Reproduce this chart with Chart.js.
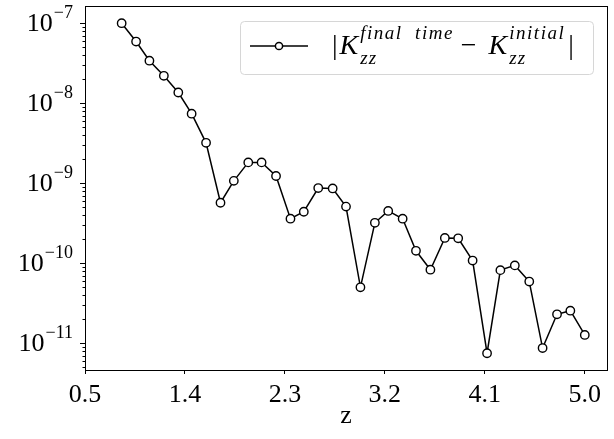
<!DOCTYPE html>
<html>
<head>
<meta charset="utf-8">
<script src="https://cdn.jsdelivr.net/npm/chart.js@4.4.1/dist/chart.umd.min.js"></script>
<style>
    body { margin: 0; background: #ffffff; }
    #wrap { width: 614px; height: 439px; position: relative; }
</style>
</head>
<body>
<div id="wrap"><canvas id="kzzChart"></canvas></div>
<script>

// ======================================================
// Données
// ======================================================

const zValues = [0.83, 0.96, 1.08, 1.21, 1.34, 1.46, 1.59, 1.72, 1.84, 1.97,
                 2.09, 2.22, 2.35, 2.47, 2.60, 2.73, 2.85, 2.98, 3.11, 3.23,
                 3.36, 3.48, 3.61, 3.74, 3.86, 3.99, 4.12, 4.24, 4.37, 4.50,
                 4.62, 4.75, 4.87, 5.00];

const diffValues = [1.0e-7, 5.9e-8, 3.4e-8, 2.2e-8, 1.36e-8, 7.4e-9, 3.2e-9, 5.7e-10, 1.07e-9, 1.82e-9,
                    1.82e-9, 1.23e-9, 3.6e-10, 4.4e-10, 8.7e-10, 8.6e-10, 5.1e-10, 5.0e-11, 3.2e-10, 4.5e-10,
                    3.6e-10, 1.43e-10, 8.3e-11, 2.07e-10, 2.05e-10, 1.08e-10, 7.5e-12, 8.2e-11, 9.4e-11, 5.9e-11,
                    8.7e-12, 2.3e-11, 2.55e-11, 1.27e-11];

const xTicks = [0.5, 1.4, 2.3, 3.2, 4.1, 5.0];
const xTickLabels = ["0.5", "1.4", "2.3", "3.2", "4.1", "5.0"];

const yMajorTicks = [1e-11, 1e-10, 1e-9, 1e-8, 1e-7];
const yExponents = ["−11", "−10", "−9", "−8", "−7"];

const xMin = 0.5;
const xMax = 5.2;
const yMin = 4.63e-12;
const yMax = 1.64e-7;

const SERIF = "'Liberation Serif', 'DejaVu Serif', serif";


// ======================================================
// Axe Y : étiquettes 10^n et graduations mineures
// ======================================================

const logAxisPlugin = {

    id: "logAxis",

    afterDraw(chart) {

        const ctx = chart.ctx;
        const y = chart.scales.y;
        const left = chart.chartArea.left;

        ctx.save();
        ctx.strokeStyle = "#000";
        ctx.lineWidth = 1;

        // graduations mineures

        for (let e = -12; e <= -7; e++) {
            for (let m = 2; m <= 9; m++) {
                const v = m * Math.pow(10, e);
                if (v < yMin || v > yMax) continue;
                const py = Math.round(y.getPixelForValue(v)) + 0.5;
                ctx.beginPath();
                ctx.moveTo(left - 2.5, py);
                ctx.lineTo(left, py);
                ctx.stroke();
            }
        }

        // étiquettes

        ctx.fillStyle = "#000";
        ctx.textBaseline = "middle";

        yMajorTicks.forEach((v, i) => {

            const py = y.getPixelForValue(v);

            ctx.font = "18px " + SERIF;
            const expW = ctx.measureText(yExponents[i]).width;
            const right = left - 12;

            ctx.textAlign = "right";
            ctx.fillText(yExponents[i], right, py - 10);

            ctx.font = "26px " + SERIF;
            ctx.fillText("10", right - expW - 1, py + 1);

        });

        ctx.restore();

    }

};


// ======================================================
// Légende
// ======================================================

const legendPlugin = {

    id: "mathLegend",

    afterDraw(chart) {

        const ctx = chart.ctx;

        ctx.save();

        // cadre

        const bx = 240.5, by = 21.5, bw = 353, bh = 53, r = 4;
        ctx.beginPath();
        ctx.roundRect(bx, by, bw, bh, r);
        ctx.fillStyle = "rgba(255,255,255,0.8)";
        ctx.fill();
        ctx.strokeStyle = "#d6d6d6";
        ctx.lineWidth = 1;
        ctx.stroke();

        // symbole

        ctx.strokeStyle = "#000";
        ctx.lineWidth = 1.5;
        ctx.beginPath();
        ctx.moveTo(250, 46);
        ctx.lineTo(308, 46);
        ctx.stroke();

        ctx.beginPath();
        ctx.arc(279, 46, 3.6, 0, Math.PI * 2);
        ctx.fillStyle = "#fff";
        ctx.fill();
        ctx.stroke();

        // texte |K_zz^{final time} − K_zz^{initial}|

        const big = "italic 28px " + SERIF;
        const small = "italic 19px " + SERIF;
        const upright = "28px " + SERIF;
        const base = 54;

        ctx.fillStyle = "#000";
        ctx.textBaseline = "alphabetic";
        ctx.textAlign = "left";

        let x = 332;

        function put(txt, font, dy, spacing) {
            ctx.font = font;
            ctx.letterSpacing = spacing || "0px";
            ctx.fillText(txt, x, base + dy);
            const w = ctx.measureText(txt).width;
            ctx.letterSpacing = "0px";
            return w;
        }

        function kTerm(sup) {
            x += put("K", big, 0) + 2;
            const w1 = put("zz", small, 10, "1px");
            const w2 = put(sup, small, -15, "1.5px");
            x += Math.max(w1, w2);
        }

        x += put("|", upright, 0) + 2;
        kTerm("final  time");
        x += 7;
        x += put("−", upright, 0) + 12;
        kTerm("initial");
        x += 3;
        put("|", upright, 0);

        ctx.restore();

    }

};


// ======================================================
// Graphique
// ======================================================

const points = zValues.map((z, i) => ({ x: z, y: diffValues[i] }));

new Chart(document.getElementById("kzzChart"), {

    type: "line",

    data: {

        datasets: [

            {

                label: "|K_zz^{final time} - K_zz^{initial}|",

                data: points,

                borderColor: "#000",

                borderWidth: 1.5,

                pointRadius: 4.2,

                pointBorderWidth: 1.4,

                pointBorderColor: "#000",

                pointBackgroundColor: "#fff",

                fill: false,

                tension: 0

            }

        ]

    },

    options: {

        responsive: true,

        maintainAspectRatio: false,

        animation: false,

        layout: {

            padding: { top: 6, right: 7, left: 0, bottom: 0 }

        },

        plugins: {

            legend: { display: false },

            tooltip: { enabled: false }

        },

        scales: {

            x: {

                type: "linear",

                min: xMin,

                max: xMax,

                afterBuildTicks: scale => {
                    scale.ticks = xTicks.map(v => ({ value: v }));
                },

                afterFit: scale => {
                    scale.height = 69;
                },

                ticks: {

                    callback: (v, i) => xTickLabels[i],

                    color: "#000",

                    padding: 6,

                    maxRotation: 0,

                    autoSkip: false,

                    font: { family: SERIF, size: 26 }

                },

                grid: {

                    drawOnChartArea: false,

                    tickLength: 4,

                    color: "#000"

                },

                border: { color: "#000", width: 1 },

                title: {

                    display: true,

                    text: "z",

                    color: "#000",

                    padding: { top: 0, bottom: 7 },

                    font: { family: SERIF, size: 26 }

                }

            },

            y: {

                type: "logarithmic",

                min: yMin,

                max: yMax,

                afterBuildTicks: scale => {
                    scale.ticks = yMajorTicks.map(v => ({ value: v }));
                },

                afterFit: scale => {
                    scale.width = 85;
                },

                ticks: {

                    display: false

                },

                grid: {

                    drawOnChartArea: false,

                    tickLength: 5,

                    color: "#000"

                },

                border: { color: "#000", width: 1 }

            }

        }

    },

    plugins: [logAxisPlugin, legendPlugin, {

        // cadre complet (haut et droite)

        id: "frame",

        afterDatasetsDraw(chart) {

            const a = chart.chartArea;
            const ctx = chart.ctx;

            ctx.save();
            ctx.strokeStyle = "#000";
            ctx.lineWidth = 1;
            ctx.strokeRect(Math.round(a.left) + 0.5, Math.round(a.top) + 0.5,
                Math.round(a.right - a.left), Math.round(a.bottom - a.top));
            ctx.restore();

        }

    }]

});

</script>
</body>
</html>
